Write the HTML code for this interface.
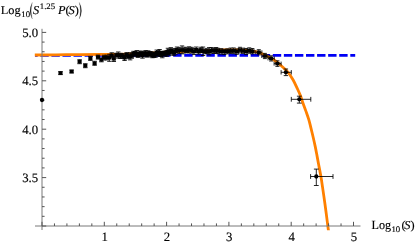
<!DOCTYPE html>
<html><head><meta charset="utf-8"><title>plot</title>
<style>html,body{margin:0;padding:0;background:#fff;}svg{display:block;}text{font-family:"Liberation Serif",serif;fill:#000;stroke:#000;stroke-width:0.14px;text-rendering:geometricPrecision;}</style></head>
<body>
<svg width="415" height="244" viewBox="0 0 415 244">
<rect width="415" height="244" fill="#fff"/>
<defs><clipPath id="pc"><rect x="30" y="20" width="340" height="210.3"/></clipPath></defs>
<line x1="35" y1="55.35" x2="355.2" y2="55.35" stroke="#0000f5" stroke-width="2.7" stroke-dasharray="8.4 2.67" stroke-dashoffset="5.74"/>
<path d="M34.80,55.00 C40.00,54.95 54.97,54.80 66.00,54.70 C77.03,54.60 91.00,54.50 101.00,54.40 C111.00,54.30 117.83,54.30 126.00,54.10 C134.17,53.90 142.67,53.55 150.00,53.20 C157.33,52.85 161.67,52.40 170.00,52.00 C178.33,51.60 190.83,51.15 200.00,50.80 C209.17,50.45 218.33,50.05 225.00,49.90 C231.67,49.75 235.50,49.72 240.00,49.90 C244.50,50.08 248.83,50.55 252.00,51.00 C255.17,51.45 256.83,51.90 259.00,52.60 C261.17,53.30 263.00,54.27 265.00,55.20 C267.00,56.13 269.48,57.40 271.00,58.20 C272.52,59.00 272.57,58.88 274.10,60.00 C275.63,61.12 277.88,62.85 280.20,64.90 C282.52,66.95 285.87,69.83 288.00,72.30 C290.13,74.77 291.50,77.10 293.00,79.70 C294.50,82.30 295.77,85.27 297.00,87.90 C298.23,90.53 299.40,92.95 300.40,95.50 C301.40,98.05 302.07,100.55 303.00,103.20 C303.93,105.85 305.03,108.67 306.00,111.40 C306.97,114.13 307.98,116.87 308.80,119.60 C309.62,122.33 310.13,124.70 310.90,127.80 C311.67,130.90 312.68,135.10 313.40,138.20 C314.12,141.30 314.63,143.67 315.20,146.40 C315.77,149.13 316.28,151.87 316.80,154.60 C317.32,157.33 317.62,159.15 318.30,162.80 C318.98,166.45 320.13,172.03 320.90,176.50 C321.67,180.97 322.22,184.97 322.90,189.60 C323.58,194.23 324.38,199.83 325.00,204.30 C325.62,208.77 326.03,212.07 326.60,216.40 C327.17,220.73 328.02,227.33 328.40,230.30 C328.78,233.27 328.82,233.55 328.90,234.20" fill="none" stroke="#ff8000" stroke-width="2.8" stroke-linecap="butt" stroke-linejoin="round" clip-path="url(#pc)"/>
<g stroke="#787878" stroke-width="1" fill="none">
<line x1="35" y1="226.0" x2="360.5" y2="226.0"/>
<line x1="42.0" y1="28.8" x2="42.0" y2="230"/>
<line x1="42.00" y1="226.0" x2="42.00" y2="221.8" stroke="#555"/>
<line x1="54.46" y1="226.0" x2="54.46" y2="223.4" stroke="#555"/>
<line x1="66.92" y1="226.0" x2="66.92" y2="223.4" stroke="#555"/>
<line x1="79.38" y1="226.0" x2="79.38" y2="223.4" stroke="#555"/>
<line x1="91.84" y1="226.0" x2="91.84" y2="223.4" stroke="#555"/>
<line x1="104.30" y1="226.0" x2="104.30" y2="221.8" stroke="#555"/>
<line x1="116.76" y1="226.0" x2="116.76" y2="223.4" stroke="#555"/>
<line x1="129.22" y1="226.0" x2="129.22" y2="223.4" stroke="#555"/>
<line x1="141.68" y1="226.0" x2="141.68" y2="223.4" stroke="#555"/>
<line x1="154.14" y1="226.0" x2="154.14" y2="223.4" stroke="#555"/>
<line x1="166.60" y1="226.0" x2="166.60" y2="221.8" stroke="#555"/>
<line x1="179.06" y1="226.0" x2="179.06" y2="223.4" stroke="#555"/>
<line x1="191.52" y1="226.0" x2="191.52" y2="223.4" stroke="#555"/>
<line x1="203.98" y1="226.0" x2="203.98" y2="223.4" stroke="#555"/>
<line x1="216.44" y1="226.0" x2="216.44" y2="223.4" stroke="#555"/>
<line x1="228.90" y1="226.0" x2="228.90" y2="221.8" stroke="#555"/>
<line x1="241.36" y1="226.0" x2="241.36" y2="223.4" stroke="#555"/>
<line x1="253.82" y1="226.0" x2="253.82" y2="223.4" stroke="#555"/>
<line x1="266.28" y1="226.0" x2="266.28" y2="223.4" stroke="#555"/>
<line x1="278.74" y1="226.0" x2="278.74" y2="223.4" stroke="#555"/>
<line x1="291.20" y1="226.0" x2="291.20" y2="221.8" stroke="#555"/>
<line x1="303.66" y1="226.0" x2="303.66" y2="223.4" stroke="#555"/>
<line x1="316.12" y1="226.0" x2="316.12" y2="223.4" stroke="#555"/>
<line x1="328.58" y1="226.0" x2="328.58" y2="223.4" stroke="#555"/>
<line x1="341.04" y1="226.0" x2="341.04" y2="223.4" stroke="#555"/>
<line x1="353.50" y1="226.0" x2="353.50" y2="221.8" stroke="#555"/>
<line x1="42.0" y1="226.00" x2="46.2" y2="226.00" stroke="#555"/>
<line x1="42.0" y1="216.32" x2="44.6" y2="216.32" stroke="#555"/>
<line x1="42.0" y1="206.64" x2="44.6" y2="206.64" stroke="#555"/>
<line x1="42.0" y1="196.96" x2="44.6" y2="196.96" stroke="#555"/>
<line x1="42.0" y1="187.28" x2="44.6" y2="187.28" stroke="#555"/>
<line x1="42.0" y1="177.60" x2="46.2" y2="177.60" stroke="#555"/>
<line x1="42.0" y1="167.92" x2="44.6" y2="167.92" stroke="#555"/>
<line x1="42.0" y1="158.24" x2="44.6" y2="158.24" stroke="#555"/>
<line x1="42.0" y1="148.56" x2="44.6" y2="148.56" stroke="#555"/>
<line x1="42.0" y1="138.88" x2="44.6" y2="138.88" stroke="#555"/>
<line x1="42.0" y1="129.20" x2="46.2" y2="129.20" stroke="#555"/>
<line x1="42.0" y1="119.52" x2="44.6" y2="119.52" stroke="#555"/>
<line x1="42.0" y1="109.84" x2="44.6" y2="109.84" stroke="#555"/>
<line x1="42.0" y1="100.16" x2="44.6" y2="100.16" stroke="#555"/>
<line x1="42.0" y1="90.48" x2="44.6" y2="90.48" stroke="#555"/>
<line x1="42.0" y1="80.80" x2="46.2" y2="80.80" stroke="#555"/>
<line x1="42.0" y1="71.12" x2="44.6" y2="71.12" stroke="#555"/>
<line x1="42.0" y1="61.44" x2="44.6" y2="61.44" stroke="#555"/>
<line x1="42.0" y1="51.76" x2="44.6" y2="51.76" stroke="#555"/>
<line x1="42.0" y1="42.08" x2="44.6" y2="42.08" stroke="#555"/>
<line x1="42.0" y1="32.40" x2="46.2" y2="32.40" stroke="#555"/>
</g>
<g fill="#000" stroke="#000" stroke-width="0.85">
<circle cx="42.00" cy="100.00" r="2.15" stroke="none"/>
<rect x="58.45" y="71.35" width="4.10" height="3.50" stroke="none"/>
<path d="M60.50,71.60V74.60M58.25,71.60H62.75M58.25,74.60H62.75" fill="none"/>
<rect x="69.55" y="69.75" width="4.10" height="3.50" stroke="none"/>
<path d="M71.60,70.00V73.00M69.35,70.00H73.85M69.35,73.00H73.85" fill="none"/>
<rect x="77.55" y="59.95" width="4.10" height="3.50" stroke="none"/>
<path d="M79.60,59.70V63.70M77.35,59.70H81.85M77.35,63.70H81.85" fill="none"/>
<rect x="83.25" y="63.95" width="4.10" height="3.50" stroke="none"/>
<path d="M85.30,63.70V67.70M83.05,63.70H87.55M83.05,67.70H87.55" fill="none"/>
<rect x="88.35" y="56.65" width="4.10" height="3.50" stroke="none"/>
<path d="M90.40,56.40V60.40M88.15,56.40H92.65M88.15,60.40H92.65" fill="none"/>
<rect x="92.55" y="61.55" width="4.10" height="3.50" stroke="none"/>
<path d="M94.60,61.30V65.30M92.35,61.30H96.85M92.35,65.30H96.85" fill="none"/>
<rect x="95.95" y="55.35" width="4.10" height="3.50" stroke="none"/>
<path d="M98.00,55.10V59.10M95.75,55.10H100.25M95.75,59.10H100.25" fill="none"/>
<rect x="99.35" y="58.05" width="4.10" height="3.50" stroke="none"/>
<path d="M101.40,57.80V61.80M99.15,57.80H103.65M99.15,61.80H103.65" fill="none"/>
<rect x="102.05" y="55.84" width="4.10" height="3.50" stroke="none"/>
<path d="M104.10,55.24V59.94M101.90,55.24H106.30M101.90,59.94H106.30" fill="none"/>
<rect x="104.72" y="55.81" width="4.10" height="3.50" stroke="none"/>
<path d="M106.77,55.19V59.93M104.57,55.19H108.97M104.57,59.93H108.97" fill="none"/>
<rect x="107.33" y="56.06" width="4.10" height="3.50" stroke="none"/>
<path d="M109.38,54.27V61.34M107.18,54.27H111.58M107.18,61.34H111.58" fill="none"/>
<rect x="109.70" y="53.56" width="4.10" height="3.50" stroke="none"/>
<path d="M111.75,52.76V57.85M109.55,52.76H113.95M109.55,57.85H113.95" fill="none"/>
<rect x="111.79" y="57.09" width="4.10" height="3.50" stroke="none"/>
<path d="M113.84,56.17V61.51M111.64,56.17H116.04M111.64,61.51H116.04" fill="none"/>
<rect x="114.23" y="53.38" width="4.10" height="3.50" stroke="none"/>
<path d="M116.28,53.22V57.05M114.08,53.22H118.48M114.08,57.05H118.48" fill="none"/>
<rect x="116.21" y="53.32" width="4.10" height="3.50" stroke="none"/>
<path d="M118.26,51.98V58.17M116.06,51.98H120.46M116.06,58.17H120.46" fill="none"/>
<rect x="118.39" y="54.15" width="4.10" height="3.50" stroke="none"/>
<path d="M120.44,53.33V58.48M118.24,53.33H122.64M118.24,58.48H122.64" fill="none"/>
<rect x="120.61" y="54.16" width="4.10" height="3.50" stroke="none"/>
<path d="M122.66,53.48V58.34M120.46,53.48H124.86M120.46,58.34H124.86" fill="none"/>
<rect x="122.52" y="56.04" width="4.10" height="3.50" stroke="none"/>
<path d="M124.57,55.09V60.49M122.37,55.09H126.77M122.37,60.49H126.77" fill="none"/>
<rect x="124.63" y="52.95" width="4.10" height="3.50" stroke="none"/>
<path d="M126.68,52.61V56.78M124.48,52.61H128.88M124.48,56.78H128.88" fill="none"/>
<rect x="126.30" y="54.66" width="4.10" height="3.50" stroke="none"/>
<path d="M128.35,54.19V58.63M126.15,54.19H130.55M126.15,58.63H130.55" fill="none"/>
<rect x="128.09" y="54.53" width="4.10" height="3.50" stroke="none"/>
<path d="M130.14,52.71V59.86M127.94,52.71H132.34M127.94,59.86H132.34" fill="none"/>
<rect x="129.73" y="54.27" width="4.10" height="3.50" stroke="none"/>
<path d="M131.78,53.74V58.29M129.58,53.74H133.98M129.58,58.29H133.98" fill="none"/>
<rect x="131.41" y="51.99" width="4.10" height="3.50" stroke="none"/>
<path d="M133.46,51.33V56.14M131.26,51.33H135.66M131.26,56.14H135.66" fill="none"/>
<rect x="132.97" y="51.93" width="4.10" height="3.50" stroke="none"/>
<path d="M135.02,51.51V55.84M132.82,51.51H137.22M132.82,55.84H137.22" fill="none"/>
<rect x="134.72" y="51.90" width="4.10" height="3.50" stroke="none"/>
<path d="M136.77,50.55V56.74M134.57,50.55H138.97M134.57,56.74H138.97" fill="none"/>
<rect x="136.07" y="53.58" width="4.10" height="3.50" stroke="none"/>
<path d="M138.12,53.28V57.37M135.92,53.28H140.32M135.92,57.37H140.32" fill="none"/>
<rect x="137.56" y="51.93" width="4.10" height="3.50" stroke="none"/>
<path d="M139.61,51.19V56.16M137.41,51.19H141.81M137.41,56.16H141.81" fill="none"/>
<rect x="139.09" y="51.69" width="4.10" height="3.50" stroke="none"/>
<path d="M141.14,51.21V55.68M138.94,51.21H143.34M138.94,55.68H143.34" fill="none"/>
<rect x="140.44" y="53.88" width="4.10" height="3.50" stroke="none"/>
<path d="M142.49,53.09V58.17M140.29,53.09H144.69M140.29,58.17H144.69" fill="none"/>
<rect x="142.06" y="51.86" width="4.10" height="3.50" stroke="none"/>
<path d="M144.11,51.39V55.82M141.91,51.39H146.31M141.91,55.82H146.31" fill="none"/>
<rect x="143.57" y="51.53" width="4.10" height="3.50" stroke="none"/>
<path d="M145.62,50.59V55.97M143.42,50.59H147.82M143.42,55.97H147.82" fill="none"/>
<rect x="144.92" y="53.24" width="4.10" height="3.50" stroke="none"/>
<path d="M146.97,52.83V57.15M144.77,52.83H149.17M144.77,57.15H149.17" fill="none"/>
<rect x="146.18" y="51.43" width="4.10" height="3.50" stroke="none"/>
<path d="M148.23,50.82V55.55M146.03,50.82H150.43M146.03,55.55H150.43" fill="none"/>
<rect x="147.67" y="52.12" width="4.10" height="3.50" stroke="none"/>
<path d="M149.72,51.61V56.14M147.52,51.61H151.92M147.52,56.14H151.92" fill="none"/>
<rect x="149.12" y="52.60" width="4.10" height="3.50" stroke="none"/>
<path d="M151.17,51.75V56.94M148.97,51.75H153.37M148.97,56.94H153.37" fill="none"/>
<rect x="150.42" y="53.41" width="4.10" height="3.50" stroke="none"/>
<path d="M152.47,52.61V57.72M150.27,52.61H154.67M150.27,57.72H154.67" fill="none"/>
<rect x="151.73" y="52.92" width="4.10" height="3.50" stroke="none"/>
<path d="M153.78,52.02V57.32M151.58,52.02H155.98M151.58,57.32H155.98" fill="none"/>
<rect x="153.38" y="53.23" width="4.10" height="3.50" stroke="none"/>
<path d="M155.43,52.59V57.36M153.23,52.59H157.63M153.23,57.36H157.63" fill="none"/>
<rect x="154.65" y="50.98" width="4.10" height="3.50" stroke="none"/>
<path d="M156.70,50.06V55.40M154.50,50.06H158.90M154.50,55.40H158.90" fill="none"/>
<rect x="156.19" y="51.49" width="4.10" height="3.50" stroke="none"/>
<path d="M158.24,50.68V55.80M156.04,50.68H160.44M156.04,55.80H160.44" fill="none"/>
<rect x="157.55" y="51.22" width="4.10" height="3.50" stroke="none"/>
<path d="M159.60,49.50V56.45M157.40,49.50H161.80M157.40,56.45H161.80" fill="none"/>
<rect x="158.89" y="52.13" width="4.10" height="3.50" stroke="none"/>
<path d="M160.94,51.29V56.46M158.74,51.29H163.14M158.74,56.46H163.14" fill="none"/>
<rect x="160.24" y="52.94" width="4.10" height="3.50" stroke="none"/>
<path d="M162.29,51.63V57.76M160.09,51.63H164.49M160.09,57.76H164.49" fill="none"/>
<rect x="161.59" y="51.61" width="4.10" height="3.50" stroke="none"/>
<path d="M163.64,51.41V55.30M161.44,51.41H165.84M161.44,55.30H165.84" fill="none"/>
<rect x="162.98" y="51.82" width="4.10" height="3.50" stroke="none"/>
<path d="M165.03,51.11V56.02M162.83,51.11H167.23M162.83,56.02H167.23" fill="none"/>
<rect x="164.64" y="51.71" width="4.10" height="3.50" stroke="none"/>
<path d="M166.69,50.56V56.36M164.49,50.56H168.89M164.49,56.36H168.89" fill="none"/>
<rect x="165.89" y="49.60" width="4.10" height="3.50" stroke="none"/>
<path d="M167.94,48.27V54.43M165.74,48.27H170.14M165.74,54.43H170.14" fill="none"/>
<rect x="167.13" y="50.76" width="4.10" height="3.50" stroke="none"/>
<path d="M169.18,49.77V55.24M166.98,49.77H171.38M166.98,55.24H171.38" fill="none"/>
<rect x="168.80" y="48.70" width="4.10" height="3.50" stroke="none"/>
<path d="M170.85,47.66V53.24M168.65,47.66H173.05M168.65,53.24H173.05" fill="none"/>
<rect x="170.35" y="50.16" width="4.10" height="3.50" stroke="none"/>
<path d="M172.40,48.92V54.89M170.20,48.92H174.60M170.20,54.89H174.60" fill="none"/>
<rect x="171.88" y="50.54" width="4.10" height="3.50" stroke="none"/>
<path d="M173.93,49.24V55.34M171.73,49.24H176.13M171.73,55.34H176.13" fill="none"/>
<rect x="173.49" y="49.55" width="4.10" height="3.50" stroke="none"/>
<path d="M175.54,48.45V54.15M173.34,48.45H177.74M173.34,54.15H177.74" fill="none"/>
<rect x="174.99" y="48.14" width="4.10" height="3.50" stroke="none"/>
<path d="M177.04,47.03V52.75M174.84,47.03H179.24M174.84,52.75H179.24" fill="none"/>
<rect x="177.44" y="48.82" width="4.10" height="3.50" stroke="none"/>
<path d="M179.49,47.63V53.51M177.29,47.63H181.69M177.29,53.51H181.69" fill="none"/>
<rect x="179.98" y="48.13" width="4.10" height="3.50" stroke="none"/>
<path d="M182.03,45.93V53.83M179.83,45.93H184.23M179.83,53.83H184.23" fill="none"/>
<rect x="182.27" y="48.40" width="4.10" height="3.50" stroke="none"/>
<path d="M184.32,47.24V53.06M182.12,47.24H186.52M182.12,53.06H186.52" fill="none"/>
<rect x="184.86" y="48.39" width="4.10" height="3.50" stroke="none"/>
<path d="M186.91,47.78V52.50M184.71,47.78H189.11M184.71,52.50H189.11" fill="none"/>
<rect x="186.95" y="48.15" width="4.10" height="3.50" stroke="none"/>
<path d="M189.00,46.82V52.97M186.80,46.82H191.20M186.80,52.97H191.20" fill="none"/>
<rect x="189.52" y="48.46" width="4.10" height="3.50" stroke="none"/>
<path d="M191.57,47.33V53.10M189.37,47.33H193.77M189.37,53.10H193.77" fill="none"/>
<rect x="192.03" y="49.75" width="4.10" height="3.50" stroke="none"/>
<path d="M194.08,48.44V54.55M191.88,48.44H196.28M191.88,54.55H196.28" fill="none"/>
<rect x="194.20" y="48.03" width="4.10" height="3.50" stroke="none"/>
<path d="M196.25,47.03V52.52M194.05,47.03H198.45M194.05,52.52H198.45" fill="none"/>
<rect x="196.65" y="49.81" width="4.10" height="3.50" stroke="none"/>
<path d="M198.70,48.99V54.13M196.50,48.99H200.90M196.50,54.13H200.90" fill="none"/>
<rect x="198.80" y="48.18" width="4.10" height="3.50" stroke="none"/>
<path d="M200.85,47.25V52.61M198.65,47.25H203.05M198.65,52.61H203.05" fill="none"/>
<rect x="200.97" y="49.55" width="4.10" height="3.50" stroke="none"/>
<path d="M203.02,47.06V55.53M200.82,47.06H205.22M200.82,55.53H205.22" fill="none"/>
<rect x="202.94" y="49.61" width="4.10" height="3.50" stroke="none"/>
<path d="M204.99,48.98V53.75M202.79,48.98H207.19M202.79,53.75H207.19" fill="none"/>
<rect x="205.11" y="49.43" width="4.10" height="3.50" stroke="none"/>
<path d="M207.16,48.81V53.54M204.96,48.81H209.36M204.96,53.54H209.36" fill="none"/>
<rect x="207.09" y="49.50" width="4.10" height="3.50" stroke="none"/>
<path d="M209.14,47.61V54.89M206.94,47.61H211.34M206.94,54.89H211.34" fill="none"/>
<rect x="209.47" y="48.65" width="4.10" height="3.50" stroke="none"/>
<path d="M211.52,47.55V53.25M209.32,47.55H213.72M209.32,53.25H213.72" fill="none"/>
<rect x="212.09" y="49.16" width="4.10" height="3.50" stroke="none"/>
<path d="M214.14,48.40V53.42M211.94,48.40H216.34M211.94,53.42H216.34" fill="none"/>
<rect x="214.05" y="48.69" width="4.10" height="3.50" stroke="none"/>
<path d="M216.10,47.52V53.37M213.90,47.52H218.30M213.90,53.37H218.30" fill="none"/>
<rect x="216.06" y="49.25" width="4.10" height="3.50" stroke="none"/>
<path d="M216.51,51.00H219.71M216.51,49.00V53.00M219.71,49.00V53.00M218.11,48.34V53.73M216.11,48.34H220.11M216.11,53.73H220.11" fill="none"/>
<rect x="219.17" y="49.52" width="4.10" height="3.50" stroke="none"/>
<path d="M219.62,51.27H222.82M219.62,49.27V53.27M222.82,49.27V53.27M221.22,48.70V54.13M219.22,48.70H223.22M219.22,54.13H223.22" fill="none"/>
<rect x="222.29" y="49.85" width="4.10" height="3.50" stroke="none"/>
<path d="M222.74,51.60H225.94M222.74,49.60V53.60M225.94,49.60V53.60M224.34,49.24V54.55M222.34,49.24H226.34M222.34,54.55H226.34" fill="none"/>
<rect x="225.41" y="49.46" width="4.10" height="3.50" stroke="none"/>
<path d="M225.86,51.21H229.06M225.86,49.21V53.21M229.06,49.21V53.21M227.46,48.82V53.83M225.46,48.82H229.46M225.46,53.83H229.46" fill="none"/>
<rect x="228.53" y="49.25" width="4.10" height="3.50" stroke="none"/>
<path d="M228.98,51.00H232.18M228.98,49.00V53.00M232.18,49.00V53.00M230.58,48.06V53.56M228.58,48.06H232.58M228.58,53.56H232.58" fill="none"/>
<rect x="231.64" y="49.11" width="4.10" height="3.50" stroke="none"/>
<path d="M232.09,50.86H235.29M232.09,48.86V52.86M235.29,48.86V52.86M233.69,47.95V53.72M231.69,47.95H235.69M231.69,53.72H235.69" fill="none"/>
<rect x="234.76" y="49.84" width="4.10" height="3.50" stroke="none"/>
<path d="M235.21,51.59H238.41M235.21,49.59V53.59M238.41,49.59V53.59M236.81,48.97V54.35M234.81,48.97H238.81M234.81,54.35H238.81" fill="none"/>
<rect x="237.88" y="48.34" width="4.10" height="3.50" stroke="none"/>
<path d="M238.33,50.09H241.53M238.33,48.09V52.09M241.53,48.09V52.09M239.93,47.29V52.97M237.93,47.29H241.93M237.93,52.97H241.93" fill="none"/>
<rect x="241.00" y="49.20" width="4.10" height="3.50" stroke="none"/>
<path d="M241.45,50.95H244.65M241.45,48.95V52.95M244.65,48.95V52.95M243.05,48.15V53.40M241.05,48.15H245.05M241.05,53.40H245.05" fill="none"/>
<rect x="244.11" y="49.69" width="4.10" height="3.50" stroke="none"/>
<path d="M244.56,51.44H247.76M244.56,49.44V53.44M247.76,49.44V53.44M246.16,48.46V54.43M244.16,48.46H248.16M244.16,54.43H248.16" fill="none"/>
<rect x="247.23" y="48.95" width="4.10" height="3.50" stroke="none"/>
<path d="M247.68,50.70H250.88M247.68,48.70V52.70M250.88,48.70V52.70M249.28,47.84V53.22M247.28,47.84H251.28M247.28,53.22H251.28" fill="none"/>
<rect x="250.35" y="49.67" width="4.10" height="3.50" stroke="none"/>
<path d="M250.80,51.42H254.00M250.80,49.42V53.42M254.00,49.42V53.42M252.40,48.52V53.97M250.40,48.52H254.40M250.40,53.97H254.40" fill="none"/>
<rect x="256.75" y="50.55" width="4.10" height="3.50" stroke="none"/>
<path d="M255.70,52.30H261.90M255.70,50.30V54.30M261.90,50.30V54.30M258.80,49.70V54.90M256.80,49.70H260.80M256.80,54.90H260.80" fill="none"/>
<rect x="262.85" y="54.25" width="4.10" height="3.50" stroke="none"/>
<path d="M261.80,56.00H268.00M261.80,54.00V58.00M268.00,54.00V58.00M264.90,53.40V58.60M262.90,53.40H266.90M262.90,58.60H266.90" fill="none"/>
<rect x="269.05" y="56.65" width="4.10" height="3.50" stroke="none"/>
<path d="M268.00,58.40H274.30M268.00,56.40V60.40M274.30,56.40V60.40M271.10,55.80V61.00M269.10,55.80H273.10M269.10,61.00H273.10" fill="none"/>
<rect x="275.35" y="61.85" width="4.10" height="3.50" stroke="none"/>
<path d="M274.10,63.60H281.10M274.10,61.60V65.60M281.10,61.60V65.60M277.40,60.80V66.40M275.40,60.80H279.40M275.40,66.40H279.40" fill="none"/>
<circle cx="285.90" cy="72.30" r="2.15" stroke="none"/>
<path d="M281.10,72.30H291.30M281.10,70.10V74.50M291.30,70.10V74.50M285.90,69.00V75.60M283.70,69.00H288.10M283.70,75.60H288.10" fill="none"/>
<circle cx="299.30" cy="99.30" r="2.15" stroke="none"/>
<path d="M291.30,99.30H310.80M291.30,96.90V101.70M310.80,96.90V101.70M299.30,96.20V103.10M296.90,96.20H301.70M296.90,103.10H301.70" fill="none"/>
<circle cx="316.30" cy="176.50" r="2.15" stroke="none"/>
<path d="M310.60,176.50H333.00M310.60,174.10V178.90M333.00,174.10V178.90M316.30,169.10V185.50M313.90,169.10H318.70M313.90,185.50H318.70" fill="none"/>
</g>
<g style="will-change:transform">
<text transform="translate(104.7,241.0) scale(1.0,1)" font-size="12.8" text-anchor="middle">1</text>
<text transform="translate(167.0,241.0) scale(1.0,1)" font-size="12.8" text-anchor="middle">2</text>
<text transform="translate(229.3,241.0) scale(1.0,1)" font-size="12.8" text-anchor="middle">3</text>
<text transform="translate(291.6,241.0) scale(1.0,1)" font-size="12.8" text-anchor="middle">4</text>
<text transform="translate(353.9,241.0) scale(1.0,1)" font-size="12.8" text-anchor="middle">5</text>
<text transform="translate(38.2,37.0) scale(1.0,1)" font-size="12.8" text-anchor="end">5.0</text>
<text transform="translate(38.2,85.4) scale(1.0,1)" font-size="12.8" text-anchor="end">4.5</text>
<text transform="translate(38.2,133.8) scale(1.0,1)" font-size="12.8" text-anchor="end">4.0</text>
<text transform="translate(38.2,182.2) scale(1.0,1)" font-size="12.8" text-anchor="end">3.5</text>
<text transform="translate(371.5,228.6) scale(0.97,1)" font-size="12.6">Log</text>
<text transform="translate(391.4,232.3) scale(1.03,1)" font-size="8.5">10</text>
<text transform="translate(401.4,228.7) scale(1.03,1)" font-size="12">(</text>
<text transform="translate(404.3,228.7) scale(1.03,1)" font-size="12" font-style="italic">S</text>
<text transform="translate(410.4,228.7) scale(1.03,1)" font-size="12">)</text>
<text transform="translate(0.8,13.6) scale(1.03,1)" font-size="12">Log</text>
<text transform="translate(21.3,17.2) scale(1.03,1)" font-size="8.5">10</text>
<text transform="translate(33.0,13.6) scale(1.03,1)" font-size="12" font-style="italic">S</text>
<text transform="translate(39.8,8.8) scale(1.03,1)" font-size="8.5">1.25</text>
<text transform="translate(57.9,13.6) scale(1.03,1)" font-size="12" font-style="italic">P</text>
<text transform="translate(65.5,13.6) scale(1.03,1)" font-size="12">(</text>
<text transform="translate(68.6,13.6) scale(1.03,1)" font-size="12" font-style="italic">S</text>
<text transform="translate(74.7,13.6) scale(1.03,1)" font-size="12">)</text>
<path d="M32.3,2.4 Q28.0,10.7 32.3,19.0 Q29.9,10.7 32.3,2.4Z" fill="#000" stroke="#000" stroke-width="0.15"/>
<path d="M79.3,2.4 Q83.6,10.7 79.3,19.0 Q81.7,10.7 79.3,2.4Z" fill="#000" stroke="#000" stroke-width="0.15"/>
</g>
</svg></body></html>
